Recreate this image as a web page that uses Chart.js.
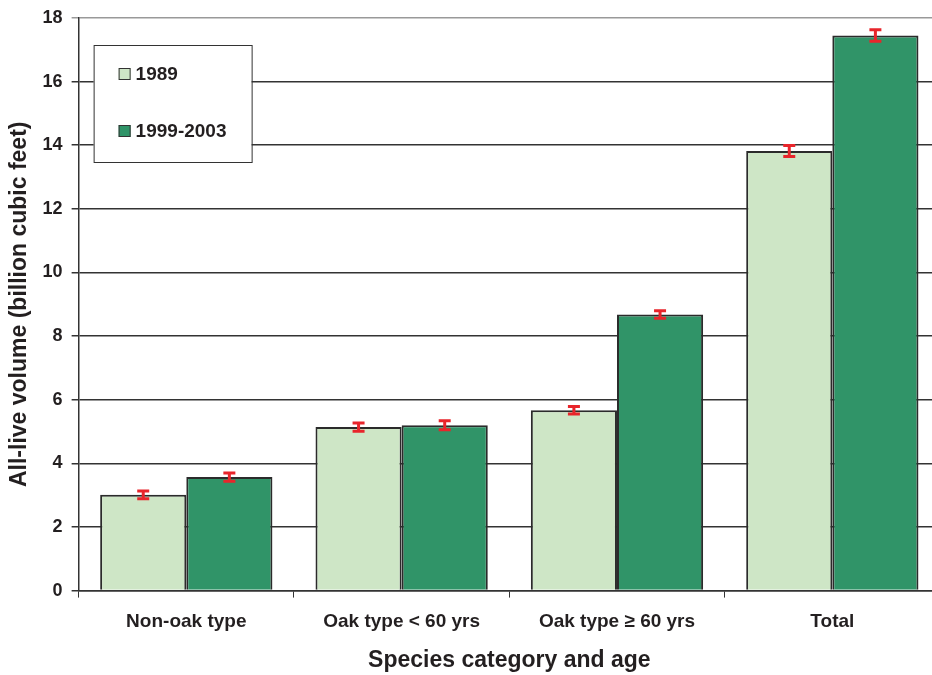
<!DOCTYPE html>
<html>
<head>
<meta charset="utf-8">
<script src="https://cdn.jsdelivr.net/npm/chart.js@4.4.1/dist/chart.umd.min.js"></script>
<style>
    html, body { margin: 0; padding: 0; background: #fff; overflow: hidden; }
    #wrap { width: 940px; height: 675px; }
</style>
</head>
<body>
<div id="wrap"><canvas id="volume_chart" width="940" height="675"></canvas></div>
<script>
// Data
const categories = ["Non-oak type", "Oak type < 60 yrs", "Oak type \u2265 60 yrs", "Total"];
const volume1989 = [3.01, 5.14, 5.67, 13.82];
const error1989 = [0.12, 0.13, 0.12, 0.17];
const volume1999 = [3.57, 5.2, 8.68, 17.45];
const error1999 = [0.13, 0.14, 0.12, 0.18];
const yTicks = [0, 2, 4, 6, 8, 10, 12, 14, 16, 18];

const lightGreen = "rgb(206, 230, 198)";
const darkGreen = "rgb(48, 148, 104)";
const fontFamily = "'Liberation Sans', Arial, sans-serif";

// red error bars drawn from the dataset error arrays
const errorBars = {
    id: "errorBars",
    afterDatasetsDraw(chart) {
        const ctx = chart.ctx;
        const y = chart.scales.y;
        const errs = [error1989, error1999];
        ctx.save();
        ctx.strokeStyle = "#e8252b";
        ctx.lineWidth = 3;
        chart.data.datasets.forEach((ds, i) => {
            const meta = chart.getDatasetMeta(i);
            meta.data.forEach((bar, j) => {
                const v = ds.data[j];
                const top = y.getPixelForValue(v + errs[i][j]);
                const bot = y.getPixelForValue(v - errs[i][j]);
                ctx.beginPath();
                ctx.moveTo(bar.x, top);
                ctx.lineTo(bar.x, bot);
                ctx.moveTo(bar.x - 6, top);
                ctx.lineTo(bar.x + 6, top);
                ctx.moveTo(bar.x - 6, bot);
                ctx.lineTo(bar.x + 6, bot);
                ctx.stroke();
            });
        });
        ctx.restore();
    },
};

// boxed legend in the upper left of the plot
const boxLegend = {
    id: "boxLegend",
    afterDraw(chart) {
        const ctx = chart.ctx;
        const area = chart.chartArea;
        const x0 = area.left + 15;
        const y0 = area.top + 27;
        ctx.save();
        ctx.fillStyle = "#fff";
        ctx.fillRect(x0, y0, 158, 117);
        ctx.strokeStyle = "#333";
        ctx.lineWidth = 1;
        ctx.strokeRect(x0 + 0.5, y0 + 0.5, 158, 117);
        ctx.font = "bold 19px " + fontFamily;
        ctx.textBaseline = "middle";
        chart.data.datasets.forEach((ds, i) => {
            const cy = y0 + 29 + i * 57;
            ctx.fillStyle = ds.backgroundColor;
            ctx.fillRect(x0 + 25, cy - 6, 12, 12);
            ctx.strokeStyle = "#333";
            ctx.strokeRect(x0 + 25.5, cy - 5.5, 11, 11);
            ctx.fillStyle = "#231f20";
            ctx.fillText(ds.label, x0 + 42, cy + 1);
        });
        ctx.restore();
    },
};

const volume_chart = document.getElementById("volume_chart");
new Chart(volume_chart, {
    type: "bar",
    data: {
        labels: categories,
        datasets: [
            {
                label: "1989",
                data: volume1989,
                backgroundColor: lightGreen,
                borderColor: "#2b2b2b",
                borderWidth: 2,
                borderSkipped: "bottom",
            },
            {
                label: "1999-2003",
                data: volume1999,
                backgroundColor: darkGreen,
                borderColor: "#2b2b2b",
                borderWidth: 2,
                borderSkipped: "bottom",
            },
        ],
    },
    options: {
        responsive: false,
        animation: false,
        layout: {
            padding: { top: 10, right: 0, left: 4, bottom: 1 },
        },
        datasets: {
            bar: { categoryPercentage: 0.8, barPercentage: 1.0 },
        },
        plugins: {
            legend: { display: false },
            tooltip: { enabled: false },
        },
        scales: {
            x: {
                offset: true,
                grid: {
                    offset: true,
                    drawOnChartArea: false,
                    color: "#333",
                    tickLength: 7,
                },
                border: { color: "#333", width: 1.5 },
                ticks: {
                    color: "#231f20",
                    padding: 13,
                    font: { family: fontFamily, size: 19, weight: "bold" },
                },
                title: {
                    display: true,
                    text: "Species category and age",
                    color: "#231f20",
                    padding: { top: 0, bottom: 0 },
                    font: { family: fontFamily, size: 23, weight: "bold" },
                },
            },
            y: {
                min: 0,
                max: 18,
                afterBuildTicks: (axis) => {
                    axis.ticks = yTicks.map((v) => ({ value: v }));
                },
                grid: {
                    color: (c) => (c.tick && c.tick.value === 18 ? "#999" : "#333"),
                    lineWidth: 1.5,
                    tickLength: 7,
                },
                border: { color: "#333", width: 1.5 },
                ticks: {
                    color: "#231f20",
                    padding: 9,
                    font: { family: fontFamily, size: 18, weight: "bold", lineHeight: 1 },
                },
                title: {
                    display: true,
                    text: "All-live volume (billion cubic feet)",
                    color: "#231f20",
                    padding: { top: 2, bottom: 0 },
                    font: { family: fontFamily, size: 23, weight: "bold" },
                },
            },
        },
    },
    plugins: [errorBars, boxLegend],
});
</script>
</body>
</html>
